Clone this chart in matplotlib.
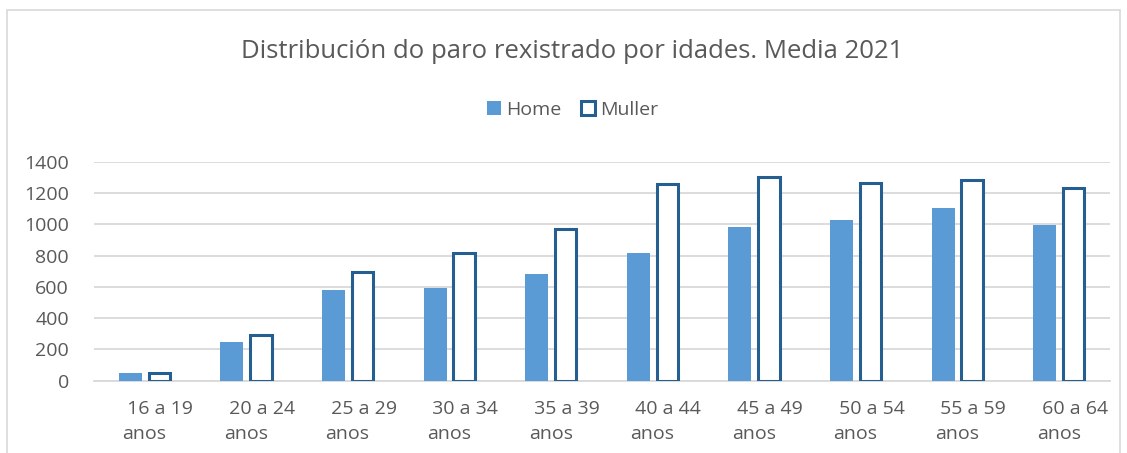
import matplotlib.pyplot as plt
import matplotlib.transforms as mtransforms
from matplotlib.patches import Rectangle
import numpy as np

# Datos
idades = ["16 a 19", "20 a 24", "25 a 29", "30 a 34", "35 a 39",
          "40 a 44", "45 a 49", "50 a 54", "55 a 59", "60 a 64"]
home = [45, 246, 577, 594, 680, 815, 986, 1029, 1104, 999]
muller = [48, 289, 697, 815, 973, 1260, 1307, 1265, 1286, 1233]

plt.rcParams["font.family"] = ["Open Sans", "DejaVu Sans"]
cinza = "#595959"

fig = plt.figure(figsize=(11.27, 4.53), dpi=100)
ax = fig.add_axes([94 / 1127, 1 - 380.5 / 453, (1110 - 94) / 1127, 218.5 / 453])

# marco do gráfico
fig.patches.append(Rectangle((7 / 1127, -0.1), (1120 - 7) / 1127, 1.1 - 10 / 453,
                             transform=fig.transFigure, fill=False,
                             edgecolor="#d9d9d9", linewidth=1.2))

x = np.arange(len(idades))
ax.bar(x - 0.143, home, width=0.227, color="#5b9bd5", label="Home", zorder=3)
ax.bar(x + 0.143, muller, width=0.21, color="white", edgecolor="#255e91",
       linewidth=2.2, label="Muller", zorder=3)

ax.set_xlim(-0.5, len(idades) - 0.5)
ax.set_ylim(0, 1400)
ax.set_yticks(range(0, 1401, 200))
ax.yaxis.grid(True, color="#d9d9d9", linewidth=1.3, zorder=0)
for lado in ["top", "right", "left"]:
    ax.spines[lado].set_visible(False)
ax.spines["bottom"].set_color("#d9d9d9")
ax.spines["bottom"].set_linewidth(1.3)
ax.tick_params(axis="both", length=0, labelsize=14, colors=cinza)
ax.tick_params(axis="y", pad=18)
ax.tick_params(axis="x", pad=14)

ax.set_xticks(x)
ax.set_xticklabels([" " + i + "\nanos" for i in idades], multialignment="left",
                   linespacing=1.5)
desprazamento = mtransforms.ScaledTranslation(0.13, 0, fig.dpi_scale_trans)
for etiqueta in ax.get_xticklabels():
    etiqueta.set_transform(etiqueta.get_transform() + desprazamento)

fig.text(0.508, 1 - 52 / 453, "Distribución do paro rexistrado por idades. Media 2021",
         ha="center", va="center", fontsize=18.5, color=cinza)
fig.legend(loc="center", bbox_to_anchor=(0.508, 1 - 110 / 453), ncol=2, frameon=False,
           fontsize=14, labelcolor=cinza, handlelength=0.75, handleheight=0.75,
           handletextpad=0.25, columnspacing=1.0)

fig.savefig("out.png", dpi=100)
